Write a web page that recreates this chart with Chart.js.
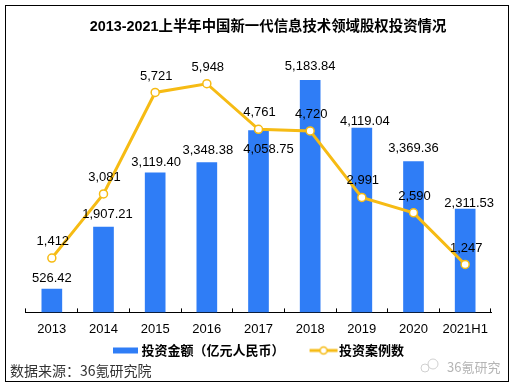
<!DOCTYPE html>
<html><head><meta charset="utf-8">
<style>html,body{margin:0;padding:0;background:#fff}canvas{display:block}
#f{position:absolute;left:5px;top:5px;width:502px;height:375px;border:1px solid #000;pointer-events:none}</style>
<script src="https://cdn.jsdelivr.net/npm/chart.js@4"></script></head>
<body><canvas id="c" width="513" height="390"></canvas><div id="f"></div>
<script>
const categories=["2013","2014","2015","2016","2017","2018","2019","2020","2021H1"];
const investAmount=[526.42,1907.21,3119.40,3348.38,4058.75,5183.84,4119.04,3369.36,2311.53];
const caseCount=[1412,3081,5721,5948,4761,4720,2991,2590,1247];
const titleText="2013-2021上半年中国新一代信息技术领域股权投资情况";
const barName="投资金额（亿元人民币）";
const lineName="投资案例数";
const sourceText="数据来源：36氪研究院";
const markText="36氪研究";
const latin='"Liberation Sans",Arial,"Noto Sans CJK SC",sans-serif';
const BLUE='#2F7DF6',GOLD='#F6BB14';
const barNudge=[[0,-10],[4,-12],[1,-10],[1,-12],[10,19],[0,-13],[3,-6],[0,-13],[4,-5]];
function swatch(draw){const k=document.createElement('canvas');k.width=34;k.height=12;draw(k.getContext('2d'));return k;}
const barSwatch=swatch(g=>{g.fillStyle=BLUE;g.fillRect(6,3,25,6);});
const lineSwatch=swatch(g=>{g.strokeStyle=GOLD;g.lineWidth=3;g.beginPath();g.moveTo(5,6);g.lineTo(33,6);g.stroke();
 g.fillStyle='#fff';g.lineWidth=1.5;g.beginPath();g.arc(19,6,3.5,0,7);g.fill();g.stroke();});
const extras={id:'extras',
 beforeDraw(ch){ch.titleBlock.left=26;ch.titleBlock.right=510;
   const l=ch.legend; l.top=318; l.bottom=390;},
 afterDatasetsDraw(ch){const g=ch.ctx;g.save();g.fillStyle='#000';g.font='13px '+latin;g.textAlign='center';g.textBaseline='middle';
   const bars=ch.getDatasetMeta(0).data,pts=ch.getDatasetMeta(1).data;
   investAmount.forEach((v,i)=>{g.fillText(v.toLocaleString('en-US',{minimumFractionDigits:2,maximumFractionDigits:2}),bars[i].x+barNudge[i][0],bars[i].y+barNudge[i][1]);});
   caseCount.forEach((v,i)=>{g.fillText(v.toLocaleString('en-US'),pts[i].x+1,pts[i].y-16.5);});
   g.textAlign='left';g.fillStyle='#333';g.font='14px "Noto Sans CJK SC",'+latin;g.fillText(sourceText,10,371);
   g.fillStyle='#b5b5b5';g.font='13px "Noto Sans CJK SC",'+latin;g.fillText(markText,447,367);
   g.strokeStyle='#d0d0d0';g.lineWidth=1;
   [[425,368,4],[433,364,5]].forEach(a=>{g.beginPath();g.arc(a[0],a[1],a[2],0,7);g.stroke();});
   g.restore();}};
new Chart(document.getElementById('c'),{
 data:{labels:categories,datasets:[
  {type:'bar',label:barName,data:investAmount,yAxisID:'y',order:2,backgroundColor:BLUE,barPercentage:.4,categoryPercentage:1},
  {type:'line',label:lineName,data:caseCount,yAxisID:'y2',order:1,borderColor:GOLD,borderWidth:3,tension:0,
   pointRadius:4,pointBackgroundColor:'#fff',pointBorderColor:GOLD,pointBorderWidth:1.5}
 ]},
 options:{responsive:false,animation:false,
  layout:{padding:{left:26,right:22,top:0,bottom:-9}},
  scales:{
   x:{grid:{drawOnChartArea:false,tickLength:-4,color:'#000',offset:true},border:{color:'#000',width:1},
      ticks:{color:'#000',font:{size:13,family:latin},padding:13,maxRotation:0,autoSkip:false}},
   y:{display:false,min:0,max:6000},
   y2:{display:false,min:0,max:7000}},
  plugins:{
   title:{display:true,text:titleText,color:'#000',font:{size:14.4,weight:'bold',family:latin},padding:{top:18,bottom:8}},
   tooltip:{enabled:false},
   legend:{position:'bottom',labels:{color:'#000',font:{size:13,weight:'bold',family:'"Noto Sans CJK SC",'+latin},usePointStyle:true,pointStyleWidth:22,boxHeight:12,padding:26,
     generateLabels(ch){return [
      {text:barName,pointStyle:barSwatch,fillStyle:BLUE,strokeStyle:BLUE,datasetIndex:0,fontColor:'#000'},
      {text:lineName,pointStyle:lineSwatch,fillStyle:GOLD,strokeStyle:GOLD,datasetIndex:1,fontColor:'#000'}];}}}
  }},
 plugins:[extras]});
</script></body></html>
